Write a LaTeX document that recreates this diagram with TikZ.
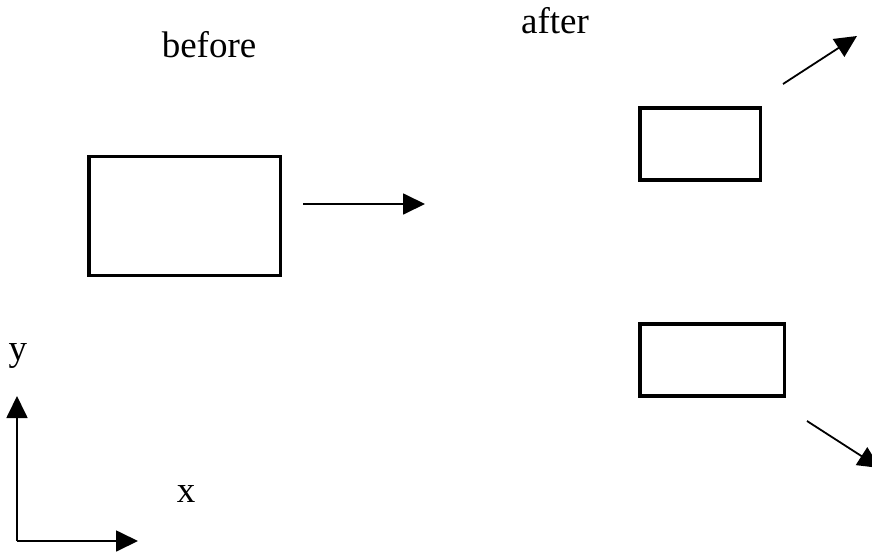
\documentclass[tikz,border=0pt]{standalone}
\usepackage{fontspec}
\setmainfont{Liberation Serif}
\usetikzlibrary{arrows.meta}
\begin{document}
\begin{tikzpicture}[x=1pt,y=-1pt,
  box/.style={draw, line width=3.5pt, inner sep=0pt, outer sep=0pt},
  arr/.style={line width=1.8pt, -{Triangle[length=22pt,width=21pt]}},
  lbl/.style={font=\fontsize{37}{42}\selectfont, inner sep=0pt}]
\useasboundingbox (0,0) rectangle (872,554);
\clip (0,0) rectangle (872,554);
% boxes
\node[box, minimum width=191.5pt, minimum height=119pt] (before) at (184.75,216) {};
\node[box, minimum width=120.5pt, minimum height=72pt] (upper) at (700.25,144) {};
\node[box, minimum width=144.5pt, minimum height=72pt] (lower) at (712.25,360) {};
% labels
\node[lbl] (tbefore) at (209,45) {before};
\node[lbl] (tafter) at (555,21) {after};
\node[lbl] (ty) at (18,356) {y};
\node[lbl] (tx) at (186,494) {x};
% arrow coordinates
\coordinate (m1) at (303,204);
\coordinate (m2) at (425,204);
\coordinate (u1) at (783,84);
\coordinate (u2) at (857,36);
\coordinate (l1) at (807,421);
\coordinate (l2) at (880,468);
\coordinate (o) at (17,541);
\coordinate (ytip) at (17,396);
\coordinate (xtip) at (138,541);
\draw[arr] (m1) -- (m2);
\draw[arr] (u1) -- (u2);
\draw[arr] (l1) -- (l2);
\draw[arr] (o) -- (ytip);
\draw[arr] (o) -- (xtip);
\end{tikzpicture}
\end{document}
